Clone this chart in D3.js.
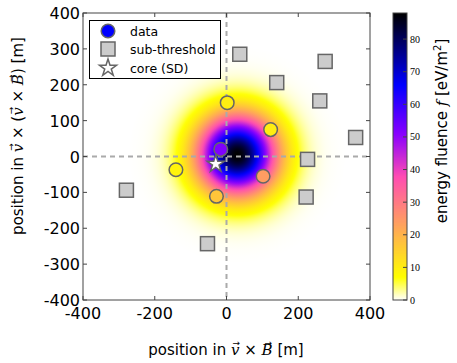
<!DOCTYPE html>
<meta charset="utf-8">
<style>
body { margin: 0; background: #fff; }
.tick-label { font: 16px "DejaVu Sans", sans-serif; fill: #000; }
.axis-label { font: 15px "DejaVu Sans", sans-serif; fill: #000; }
.legend text { font: 12.5px "DejaVu Sans", sans-serif; fill: #000; }
.cbar text { font: 10px "Liberation Serif", serif; fill: #000; }
.m { font-family: "DejaVu Serif", serif; font-style: italic; }
.arr { font-family: "DejaVu Sans", sans-serif; font-style: normal; font-size: 9px; }
</style>
<body>
<script src="https://cdn.jsdelivr.net/npm/d3@7"></script>
<script>
// station data (signal)
var dataX = [2, 123, -16, -141, 102, -28];
var dataY = [150, 75, 20, -37, -55, -111];
var dataF = [10, 10, 52, 9, 24, 17];
// sub-threshold stations
var subX = [37, 275, 140, 260, 360, 226, 222, -279, -53];
var subY = [285, 265, 206, 155, 53, -8, -113, -94, -243];
// core from SD
var coreX = [-30], coreY = [-21];
// fitted footprint: centre, width, peak
var fpCenter = [30, 5], fpSigma = 75, fpPeak = 88;

var xTicks = [-400, -200, 0, 200, 400];
var yTicks = [-400, -300, -200, -100, 0, 100, 200, 300, 400];
var cTicks = [0, 10, 20, 30, 40, 50, 60, 70, 80];

var W = 457, H = 363;
var plot = {left: 83, right: 370, top: 13, bottom: 300};
var cb = {left: 393, right: 407, top: 13, bottom: 300};

var svg = d3.select("body").append("svg").attr("width", W).attr("height", H);

var x = d3.scaleLinear().domain([-400, 400]).range([plot.left, plot.right]);
var y = d3.scaleLinear().domain([-400, 400]).range([plot.bottom, plot.top]);

// gnuplot2 reversed colormap
function clamp(v) { return Math.max(0, Math.min(1, v)); }
function gnuplot2(t) {
  var r = clamp(t / 0.32 - 0.78125);
  var g = clamp(2 * t - 0.84);
  var b = t < 0.25 ? 4 * t : t < 0.42 ? 1 : t < 0.92 ? -2 * t + 1.84 : t / 0.08 - 11.5;
  b = clamp(b);
  return d3.rgb(r * 255, g * 255, b * 255).toString();
}
var color = d3.scaleSequential(function(t) { return gnuplot2(1 - t); }).domain([0, fpPeak]);

// footprint as a radial gradient
var defs = svg.append("defs");
var Rm = 300;
var grad = defs.append("radialGradient").attr("id", "fp");
d3.range(0, 61).forEach(function(i) {
  var rr = i / 60 * Rm;
  var v = fpPeak * Math.exp(-rr * rr / (2 * fpSigma * fpSigma));
  grad.append("stop").attr("offset", (i / 60 * 100) + "%").attr("stop-color", color(v));
});
defs.append("clipPath").attr("id", "clip").append("rect")
  .attr("x", plot.left).attr("y", plot.top)
  .attr("width", plot.right - plot.left).attr("height", plot.bottom - plot.top);

var g = svg.append("g").attr("clip-path", "url(#clip)");
g.append("circle")
  .attr("cx", x(fpCenter[0])).attr("cy", y(fpCenter[1]))
  .attr("r", x(Rm) - x(0))
  .attr("fill", "url(#fp)");

// dashed axes lines
g.append("line").attr("x1", x(0)).attr("x2", x(0)).attr("y1", plot.top).attr("y2", plot.bottom)
  .attr("stroke", "#aaa").attr("stroke-width", 2).attr("stroke-dasharray", "5,4");
g.append("line").attr("y1", y(0)).attr("y2", y(0)).attr("x1", plot.left).attr("x2", plot.right)
  .attr("stroke", "#aaa").attr("stroke-width", 2).attr("stroke-dasharray", "5,4");

// sub-threshold squares
g.selectAll(".sub").data(subX).enter().append("rect")
  .attr("x", function(d) { return x(d) - 7; })
  .attr("y", function(d, i) { return y(subY[i]) - 7; })
  .attr("width", 14).attr("height", 14)
  .attr("fill", "#cccccc").attr("stroke", "#666").attr("stroke-width", 1.5);

// data circles
g.selectAll(".dat").data(dataX).enter().append("circle")
  .attr("cx", function(d) { return x(d); })
  .attr("cy", function(d, i) { return y(dataY[i]); })
  .attr("r", 6.8)
  .attr("fill", function(d, i) { return color(dataF[i]); })
  .attr("stroke", "#666").attr("stroke-width", 1.5);

// core
var star = d3.symbol().type(d3.symbolStar).size(90);
g.selectAll(".core").data(coreX).enter().append("path")
  .attr("d", star)
  .attr("transform", function(d, i) { return "translate(" + x(d) + "," + y(coreY[i]) + ")"; })
  .attr("fill", "#fff").attr("stroke", "#666").attr("stroke-width", 1.5);

// frame and ticks
svg.append("rect").attr("x", plot.left).attr("y", plot.top)
  .attr("width", plot.right - plot.left).attr("height", plot.bottom - plot.top)
  .attr("fill", "none").attr("stroke", "#444").attr("stroke-width", 1);

var tk = svg.append("g").attr("stroke", "#444").attr("stroke-width", 1);
xTicks.forEach(function(t) {
  tk.append("line").attr("x1", x(t)).attr("x2", x(t)).attr("y1", plot.bottom).attr("y2", plot.bottom - 4);
  tk.append("line").attr("x1", x(t)).attr("x2", x(t)).attr("y1", plot.top).attr("y2", plot.top + 4);
  svg.append("text").attr("class", "tick-label").attr("x", x(t)).attr("y", plot.bottom + 19)
    .attr("text-anchor", "middle").text(t);
});
yTicks.forEach(function(t) {
  tk.append("line").attr("y1", y(t)).attr("y2", y(t)).attr("x1", plot.left).attr("x2", plot.left + 4);
  tk.append("line").attr("y1", y(t)).attr("y2", y(t)).attr("x1", plot.right).attr("x2", plot.right - 4);
  svg.append("text").attr("class", "tick-label").attr("x", plot.left - 3).attr("y", y(t) + 6)
    .attr("text-anchor", "end").text(t);
});

// label builder: plain strings, or ["v"] for a vector letter with an arrow above
function label(txt, parts) {
  var pend = null;
  parts.forEach(function(p) {
    if (typeof p === "string") {
      var s = txt.append("tspan").text(p);
      if (pend) { s.attr("dx", pend).attr("dy", 9); pend = null; }
    } else {
      var back = p[0] === "B" ? 8.5 : 7.5;
      var l = txt.append("tspan").attr("class", "m").text(p[0]);
      if (pend) { l.attr("dx", pend).attr("dy", 9); pend = null; }
      txt.append("tspan").attr("class", "arr").attr("dx", -back + 0.5).attr("dy", -9).text("\u2192");
      pend = back - 0.5 - 7.5;
    }
  });
}

// axis labels
var xl = svg.append("text").attr("class", "axis-label").attr("x", 226).attr("y", 355).attr("text-anchor", "middle");
label(xl, ["position in ", ["v"], " \u00D7 ", ["B"], " [m]"]);

var yl = svg.append("text").attr("class", "axis-label").attr("text-anchor", "middle")
  .attr("transform", "translate(23,136) rotate(-90)");
label(yl, ["position in ", ["v"], " \u00D7 (", ["v"], " \u00D7 ", ["B"], ") [m]"]);

// legend
var lg = svg.append("g").attr("class", "legend");
lg.append("rect").attr("x", 89.5).attr("y", 20.5).attr("width", 131).attr("height", 58)
  .attr("fill", "#fff").attr("stroke", "#000").attr("stroke-width", 1);
lg.append("circle").attr("cx", 108).attr("cy", 31).attr("r", 6.8)
  .attr("fill", "#0000ff").attr("stroke", "#666").attr("stroke-width", 1.5);
lg.append("rect").attr("x", 101).attr("y", 42).attr("width", 14).attr("height", 14)
  .attr("fill", "#cccccc").attr("stroke", "#666").attr("stroke-width", 1.5);
lg.append("path").attr("d", star).attr("transform", "translate(108,68)")
  .attr("fill", "#fff").attr("stroke", "#666").attr("stroke-width", 1.5);
[["data", 31], ["sub-threshold", 49], ["core (SD)", 68]].forEach(function(e) {
  lg.append("text").attr("x", 130).attr("y", e[1] + 4.5).text(e[0]);
});

// colorbar
var cy = d3.scaleLinear().domain([0, fpPeak]).range([cb.bottom, cb.top]);
var cg = svg.append("g").attr("class", "cbar");
d3.range(0, cb.bottom - cb.top).forEach(function(i) {
  var v = cy.invert(cb.bottom - i - 0.5);
  cg.append("rect").attr("x", cb.left).attr("y", cb.bottom - i - 1)
    .attr("width", cb.right - cb.left).attr("height", 1.2).attr("fill", color(v));
});
cg.append("rect").attr("x", cb.left).attr("y", cb.top).attr("width", cb.right - cb.left)
  .attr("height", cb.bottom - cb.top).attr("fill", "none").attr("stroke", "#444");
cTicks.forEach(function(t) {
  cg.append("line").attr("x1", cb.right).attr("x2", cb.right - 4).attr("y1", cy(t)).attr("y2", cy(t))
    .attr("stroke", "#444");
  cg.append("text").attr("x", cb.right + 3).attr("y", cy(t) + 3.5).text(t);
});
var cl = svg.append("text").attr("class", "axis-label").attr("text-anchor", "middle")
  .attr("transform", "translate(447,131) rotate(-90)");
cl.append("tspan").text("energy fluence ");
cl.append("tspan").attr("class", "m").text("f");
cl.append("tspan").text(" [eV/m");
cl.append("tspan").attr("dy", -6).attr("font-size", 10).text("2");
cl.append("tspan").attr("dy", 6).text("]");
</script>
</body>
